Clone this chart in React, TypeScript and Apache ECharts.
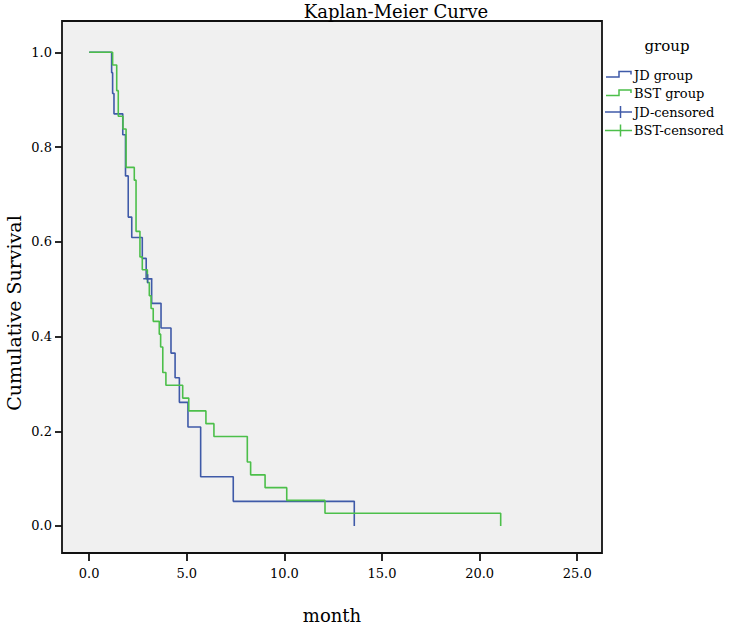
import React, { useEffect, useRef } from "react";
import * as echarts from "echarts";

// JD group: event times (month) and survival after each drop
const jdTimes = [0, 1.15, 1.2, 1.27, 1.72, 1.86, 2.0, 2.18, 2.72, 2.92, 3.2, 3.68, 4.19, 4.4, 4.62, 5.06, 5.71, 7.38, 13.58];
const jdSurv = [1, 0.957, 0.913, 0.87, 0.826, 0.739, 0.652, 0.609, 0.565, 0.522, 0.47, 0.418, 0.365, 0.313, 0.261, 0.209, 0.104, 0.052, 0];

// BST group
const bstTimes = [0, 1.2, 1.41, 1.49, 1.73, 1.89, 2.31, 2.4, 2.6, 2.72, 2.98, 3.08, 3.17, 3.28, 3.59, 3.66, 3.77, 3.93, 4.79, 5.1, 5.98, 6.39, 8.1, 8.27, 9.01, 10.12, 12.08, 21.08];
const bstSurv = [1, 0.973, 0.919, 0.865, 0.838, 0.757, 0.73, 0.622, 0.568, 0.541, 0.514, 0.486, 0.459, 0.432, 0.405, 0.378, 0.324, 0.297, 0.27, 0.243, 0.216, 0.189, 0.135, 0.108, 0.081, 0.054, 0.027, 0];

// censored observations
const jdCensTimes = [3.0];
const jdCensSurv = [0.522];
const bstCensTimes: number[] = [];
const bstCensSurv: number[] = [];

const xTicks = [0, 5, 10, 15, 20, 25];
const yTicks = [0, 0.2, 0.4, 0.6, 0.8, 1.0];

const legendNames = ["JD group", "BST group", "JD-censored", "BST-censored"];

const BLUE = "#3f5aa8";
const GREEN = "#4cbf4a";
const FONT = "DejaVu Serif";
const PLUS = "path://M4.25,0h1.5v4.25h4.25v1.5h-4.25v4.25h-1.5v-4.25h-4.25v-1.5h4.25z";

export default function App() {
  const ref = useRef<HTMLDivElement>(null);
  useEffect(() => {
    if (!ref.current) return;
    const chart = echarts.init(ref.current, undefined, { renderer: "svg" });
    const pair = (t: number[], s: number[]) => t.map((v, i) => [v, s[i]]);

    const rowY = [75, 93.5, 112, 130.5];
    const colors = [BLUE, GREEN, BLUE, GREEN];
    const legendEls: any[] = [];
    legendNames.forEach((name, i) => {
      const yc = rowY[i];
      if (i < 2) {
        legendEls.push({
          type: "polyline",
          shape: { points: [[606, yc + 2], [619, yc + 2], [619, yc - 3.5], [631, yc - 3.5], [631, yc - 0.5]] },
          style: { stroke: colors[i], lineWidth: 1.5, fill: null },
        });
      } else {
        legendEls.push({
          type: "line",
          shape: { x1: 605, y1: yc, x2: 632, y2: yc },
          style: { stroke: colors[i], lineWidth: 1.5 },
        });
        legendEls.push({
          type: "line",
          shape: { x1: 620.5, y1: yc - 6, x2: 620.5, y2: yc + 6 },
          style: { stroke: colors[i], lineWidth: 1.5 },
        });
      }
      legendEls.push({
        type: "text",
        x: 634,
        y: yc,
        style: { text: name, fill: "#000", font: `13px "${FONT}"`, textAlign: "left", textVerticalAlign: "middle" },
      });
    });

    chart.setOption({
      animation: false,
      backgroundColor: "#ffffff",
      grid: {
        left: 62,
        top: 21,
        width: 540,
        height: 546,
        show: true,
        backgroundColor: "#f0f0f0",
        borderColor: "#111111",
        borderWidth: 1.8,
      },
      xAxis: {
        type: "value",
        min: -1.393,
        max: 26.27,
        splitLine: { show: false },
        axisLine: { show: false, onZero: false },
        axisTick: { show: true, customValues: xTicks, length: 8, lineStyle: { color: "#111111", width: 1.8 } },
        axisLabel: {
          customValues: xTicks,
          formatter: (v: number) => v.toFixed(1),
          margin: 14,
          color: "#000",
          fontFamily: FONT,
          fontSize: 13,
        },
        name: "month",
        nameLocation: "middle",
        nameGap: 53,
        nameTextStyle: { fontFamily: FONT, fontSize: 18, color: "#000" },
      },
      yAxis: {
        type: "value",
        min: -0.057,
        max: 1.066,
        splitLine: { show: false },
        axisLine: { show: false, onZero: false },
        axisTick: { show: true, customValues: yTicks, length: 7, lineStyle: { color: "#111111", width: 1.8 } },
        axisLabel: {
          customValues: yTicks,
          formatter: (v: number) => v.toFixed(1),
          margin: 10,
          color: "#000",
          fontFamily: FONT,
          fontSize: 13,
        },
      },
      graphic: [
        {
          type: "text",
          x: 396,
          y: 11,
          style: { text: "Kaplan-Meier Curve", fill: "#000", font: `18px "${FONT}"`, textAlign: "center", textVerticalAlign: "middle" },
        },
        {
          type: "text",
          x: 14,
          y: 313,
          rotation: Math.PI / 2,
          style: { text: "Cumulative Survival", fill: "#000", font: `19px "${FONT}"`, textAlign: "center", textVerticalAlign: "middle" },
        },
        {
          type: "text",
          x: 667,
          y: 46,
          style: { text: "group", fill: "#000", font: `15px "${FONT}"`, textAlign: "center", textVerticalAlign: "middle" },
        },
        ...legendEls,
      ],
      series: [
        {
          name: "JD group",
          type: "line",
          step: "end",
          showSymbol: false,
          data: pair(jdTimes, jdSurv),
          lineStyle: { color: BLUE, width: 1.6 },
          itemStyle: { color: BLUE },
          z: 2,
        },
        {
          name: "BST group",
          type: "line",
          step: "end",
          showSymbol: false,
          data: pair(bstTimes, bstSurv),
          lineStyle: { color: GREEN, width: 1.6 },
          itemStyle: { color: GREEN },
          z: 3,
        },
        {
          name: "JD-censored",
          type: "scatter",
          symbol: PLUS,
          symbolSize: 9,
          data: pair(jdCensTimes, jdCensSurv),
          itemStyle: { color: BLUE, opacity: 1 },
          z: 4,
        },
        {
          name: "BST-censored",
          type: "scatter",
          symbol: PLUS,
          symbolSize: 9,
          data: pair(bstCensTimes, bstCensSurv),
          itemStyle: { color: GREEN, opacity: 1 },
          z: 4,
        },
      ],
    });
    return () => chart.dispose();
  }, []);
  return (
    <div
      ref={ref}
      style={{ position: "fixed", left: 0, top: 0, width: 730, height: 629 }}
    />
  );
}
